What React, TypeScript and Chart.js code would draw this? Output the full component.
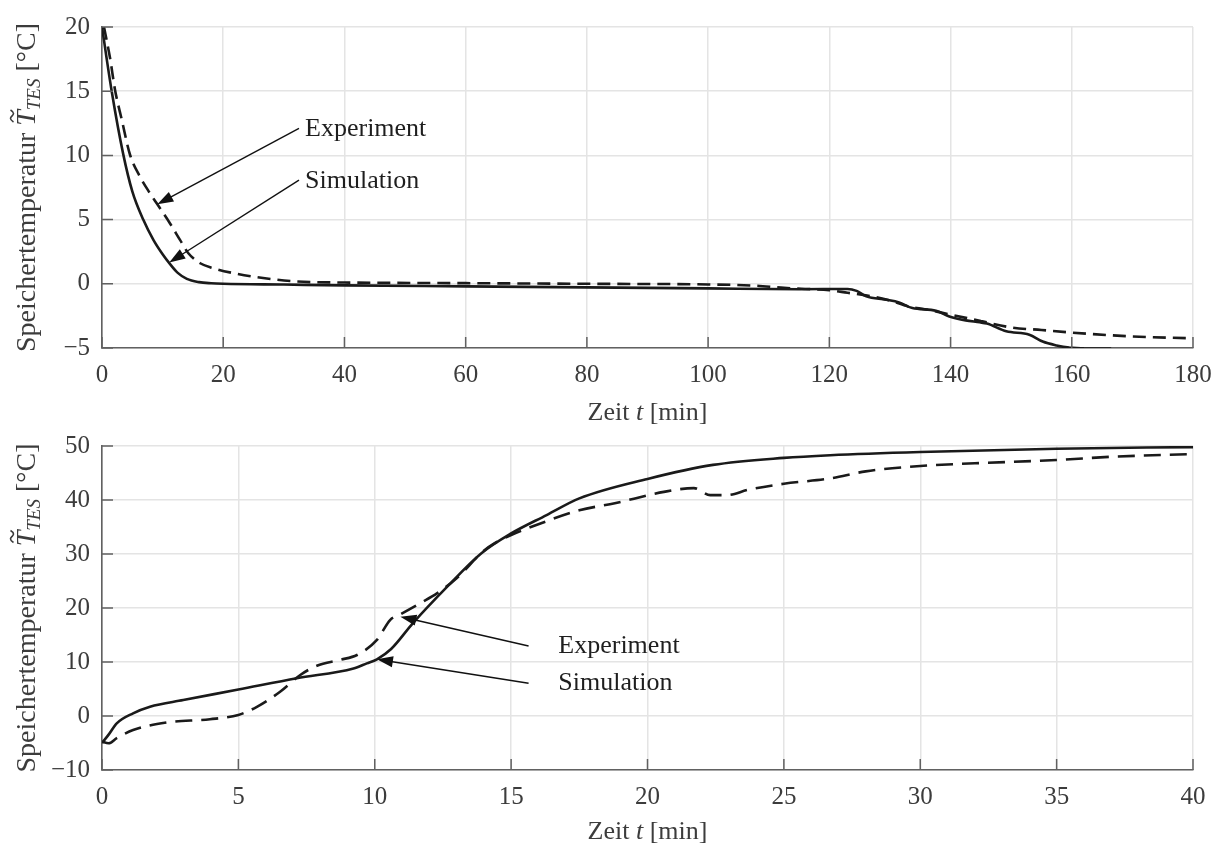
import React, { useEffect, useRef } from 'react';
import { Chart, registerables } from 'chart.js';

Chart.register(...registerables);

// ---------- Data ----------
// Upper panel: discharging, 0..180 min
const topSimTime = [0, 1.6, 3.5, 5, 6.8, 8.5, 10, 11.2, 12.5, 14, 16, 18, 20, 30, 40, 60, 80, 100, 115, 123, 124.5, 126.1, 129.4, 131.5, 133.7, 137.6, 139.8, 142.5, 144.8, 146, 149.2, 153, 155.2, 157.5, 159.6, 162, 166.5];
const topSimTemp = [20, 15, 10.1, 7.2, 5.0, 3.4, 2.3, 1.55, 0.85, 0.38, 0.13, 0.04, 0.0, -0.06, -0.12, -0.2, -0.28, -0.36, -0.42, -0.4, -0.55, -0.98, -1.24, -1.45, -1.89, -2.1, -2.54, -2.85, -3.0, -3.1, -3.7, -3.96, -4.5, -4.8, -4.97, -5.03, -5.05];

const topExpTime = [0.33, 1.32, 2.15, 3.25, 4.62, 6.27, 7.92, 9.13, 11.2, 12.87, 14.25, 16.2, 18.4, 21.7, 25.5, 32.1, 40, 60, 80, 100, 108, 112, 116, 120, 123, 126, 130, 133, 136, 140, 145, 150, 155, 160, 170, 180];
const topExpTemp = [20, 17.6, 15.1, 12.8, 10.05, 8.34, 7.05, 6.19, 4.72, 3.42, 2.38, 1.6, 1.21, 0.83, 0.52, 0.18, 0.1, 0.05, 0.0, -0.05, -0.15, -0.3, -0.4, -0.5, -0.7, -0.9, -1.3, -1.76, -2.0, -2.4, -2.9, -3.4, -3.6, -3.8, -4.1, -4.25];

// Lower panel: charging, 0..40 min
const botSimTime = [0, 0.25, 0.54, 1.14, 1.76, 2.98, 5.0, 7.14, 9.22, 9.71, 10.08, 10.6, 11.4, 12.65, 13.9, 15, 16.3, 17.5, 20, 22.4, 25, 26.7, 30, 35, 40];
const botSimTemp = [-5, -3.4, -1.36, 0.5, 1.73, 2.95, 4.9, 7.0, 8.8, 9.75, 10.5, 12.4, 17.2, 23.9, 30.1, 33.8, 37.2, 40.3, 43.9, 46.5, 47.8, 48.3, 48.9, 49.5, 49.8];

const botExpTime = [0, 0.24, 0.54, 1.14, 2.37, 3.96, 5.0, 5.68, 6.53, 7.27, 7.88, 8.73, 9.35, 10.08, 10.57, 10.9, 11.67, 12.28, 13, 14, 14.4, 15, 16.1, 17.5, 18.8, 20.6, 21.7, 22.3, 22.9, 23.7, 25, 26.7, 28, 30, 32, 35, 37, 40];
const botExpTemp = [-4.75, -5.06, -4.1, -2.6, -1.2, -0.6, 0.2, 1.7, 4.5, 7.6, 9.3, 10.4, 11.3, 14.1, 17.8, 18.7, 20.9, 22.7, 25.5, 30.6, 32, 33.5, 35.7, 38.1, 39.4, 41.5, 42.2, 40.9, 40.9, 41.9, 43, 44, 45.3, 46.3, 46.8, 47.4, 48.0, 48.5];

const seriesNames = ['Simulation', 'Experiment'];
const xTitleParts = ['Zeit ', 't', ' [min]'];
const yTitleParts = ['Speichertemperatur ', 'T', 'TES', ' [°C]'];

// ---------- Styling / layout ----------
const FONT = '"Liberation Serif", "Times New Roman", serif';
const LINE = '#1a1a1a';
const TEXT = '#3c3c3c';
const GRID = '#e4e4e4';
const AXIS = '#616161';

type Note = { text: string; tx: number; ty: number; fx: number; fy: number; hx: number; hy: number };

const topNotes: Note[] = [
  { text: seriesNames[1], tx: 33.5, ty: 11.5, fx: 32.5, fy: 12.1, hx: 9.13, hy: 6.19 },
  { text: seriesNames[0], tx: 33.5, ty: 7.46, fx: 32.5, fy: 8.08, hx: 11.1, hy: 1.66 },
];
const botNotes: Note[] = [
  { text: seriesNames[1], tx: 16.73, ty: 11.67, fx: 15.64, fy: 12.96, hx: 10.94, hy: 18.4 },
  { text: seriesNames[0], tx: 16.73, ty: 4.81, fx: 15.64, fy: 6.06, hx: 10.08, hy: 10.5 },
];

const fmt = (v: number | string) => {
  const n = Number(v);
  return n < 0 ? '\u2212' + Math.abs(n) : String(n);
};

const xy = (ts: number[], vs: number[]) => ts.map((t, i) => ({ x: t, y: vs[i] }));

function drawArrow(ctx: CanvasRenderingContext2D, x1: number, y1: number, x2: number, y2: number) {
  const ang = Math.atan2(y2 - y1, x2 - x1);
  const L = 16, W = 5.5;
  ctx.save();
  ctx.strokeStyle = '#111';
  ctx.fillStyle = '#111';
  ctx.lineWidth = 1.4;
  ctx.beginPath();
  ctx.moveTo(x1, y1);
  ctx.lineTo(x2 - Math.cos(ang) * (L - 2), y2 - Math.sin(ang) * (L - 2));
  ctx.stroke();
  ctx.beginPath();
  ctx.moveTo(x2, y2);
  ctx.lineTo(x2 - L * Math.cos(ang) + W * Math.sin(ang), y2 - L * Math.sin(ang) - W * Math.cos(ang));
  ctx.lineTo(x2 - L * Math.cos(ang) - W * Math.sin(ang), y2 - L * Math.sin(ang) + W * Math.cos(ang));
  ctx.closePath();
  ctx.fill();
  ctx.restore();
}

function makeDecor(notes: Note[], xTitleBaseline: number) {
  return {
    id: 'decor',
    afterDraw(chart: any) {
      const ctx: CanvasRenderingContext2D = chart.ctx;
      const xs = chart.scales.x;
      const ys = chart.scales.y;
      const area = chart.chartArea;

      // inward tick marks
      ctx.save();
      ctx.strokeStyle = AXIS;
      ctx.lineWidth = 1.5;
      ctx.beginPath();
      ys.ticks.forEach((t: any) => {
        const p = ys.getPixelForValue(t.value);
        ctx.moveTo(area.left, p);
        ctx.lineTo(area.left + 11, p);
      });
      xs.ticks.forEach((t: any) => {
        const p = xs.getPixelForValue(t.value);
        ctx.moveTo(p, area.bottom);
        ctx.lineTo(p, area.bottom - 11);
      });
      ctx.stroke();
      ctx.restore();

      // annotations
      ctx.save();
      notes.forEach((n) => {
        drawArrow(ctx, xs.getPixelForValue(n.fx), ys.getPixelForValue(n.fy), xs.getPixelForValue(n.hx), ys.getPixelForValue(n.hy));
        ctx.fillStyle = '#1e1e1e';
        ctx.font = `26px ${FONT}`;
        ctx.textAlign = 'left';
        ctx.textBaseline = 'alphabetic';
        ctx.fillText(n.text, xs.getPixelForValue(n.tx), ys.getPixelForValue(n.ty));
      });
      ctx.restore();

      // x-axis title
      ctx.save();
      ctx.fillStyle = TEXT;
      ctx.textBaseline = 'alphabetic';
      ctx.textAlign = 'left';
      const fN = `26px ${FONT}`;
      const fI = `italic 26px ${FONT}`;
      const segs = [
        { t: xTitleParts[0], f: fN },
        { t: xTitleParts[1], f: fI },
        { t: xTitleParts[2], f: fN },
      ];
      let total = 0;
      segs.forEach((s) => { ctx.font = s.f; total += ctx.measureText(s.t).width; });
      let x = (area.left + area.right) / 2 - total / 2;
      segs.forEach((s) => { ctx.font = s.f; ctx.fillText(s.t, x, xTitleBaseline); x += ctx.measureText(s.t).width; });
      ctx.restore();

      // y-axis title (rotated, with italic T, tilde and subscript)
      ctx.save();
      ctx.translate(35, (area.top + area.bottom) / 2);
      ctx.rotate(-Math.PI / 2);
      ctx.fillStyle = TEXT;
      ctx.textBaseline = 'alphabetic';
      ctx.textAlign = 'left';
      const yN = `28px ${FONT}`;
      const yI = `italic 28px ${FONT}`;
      const yS = `italic 19px ${FONT}`;
      const ysegs = [
        { t: yTitleParts[0], f: yN, dy: 0 },
        { t: yTitleParts[1], f: yI, dy: 0 },
        { t: yTitleParts[2], f: yS, dy: 5 },
        { t: yTitleParts[3], f: yN, dy: 0 },
      ];
      let tot = 0;
      ysegs.forEach((s) => { ctx.font = s.f; tot += ctx.measureText(s.t).width; });
      let px = -tot / 2;
      ysegs.forEach((s, i) => {
        ctx.font = s.f;
        const w = ctx.measureText(s.t).width;
        ctx.fillText(s.t, px, s.dy);
        if (i === 1) {
          // tilde over T
          const cx = px + w / 2 + 2;
          const cy = -23;
          ctx.save();
          ctx.strokeStyle = TEXT;
          ctx.lineWidth = 1.6;
          ctx.beginPath();
          ctx.moveTo(cx - 6, cy + 1.5);
          ctx.bezierCurveTo(cx - 3, cy - 3.5, cx - 1, cy - 1, cx, cy);
          ctx.bezierCurveTo(cx + 1, cy + 1, cx + 3, cy + 3.5, cx + 6, cy - 1.5);
          ctx.stroke();
          ctx.restore();
        }
        px += w;
      });
      ctx.restore();
    },
  };
}

function buildConfig(
  simT: number[], simV: number[], expT: number[], expV: number[],
  xmin: number, xmax: number, xstep: number,
  ymin: number, ymax: number, ystep: number,
  padTop: number, padRight: number, xAxisHeight: number, dash: number[],
  notes: Note[], xTitleBaseline: number,
): any {
  return {
    type: 'line',
    data: {
      datasets: [
        {
          label: seriesNames[0],
          data: xy(simT, simV),
          borderColor: LINE,
          borderWidth: 2.6,
          pointRadius: 0,
          cubicInterpolationMode: 'monotone',
          fill: false,
        },
        {
          label: seriesNames[1],
          data: xy(expT, expV),
          borderColor: LINE,
          borderWidth: 2.6,
          borderDash: dash,
          pointRadius: 0,
          cubicInterpolationMode: 'monotone',
          fill: false,
        },
      ],
    },
    options: {
      responsive: false,
      animation: false,
      devicePixelRatio: 1,
      layout: { padding: { top: padTop, right: padRight, left: 0, bottom: 0 } },
      plugins: { legend: { display: false }, tooltip: { enabled: false } },
      scales: {
        x: {
          type: 'linear',
          min: xmin,
          max: xmax,
          ticks: {
            stepSize: xstep,
            color: TEXT,
            font: { family: FONT, size: 25 },
            padding: 12,
            maxRotation: 0,
            autoSkip: false,
            callback: fmt,
          },
          grid: { color: GRID, lineWidth: 1.5, drawTicks: false },
          border: { color: AXIS, width: 1.6 },
          afterFit: (s: any) => { s.height = xAxisHeight; },
        },
        y: {
          type: 'linear',
          min: ymin,
          max: ymax,
          ticks: {
            stepSize: ystep,
            color: TEXT,
            font: { family: FONT, size: 25 },
            padding: 12,
            autoSkip: false,
            callback: fmt,
          },
          grid: { color: GRID, lineWidth: 1.5, drawTicks: false },
          border: { color: AXIS, width: 1.6 },
          afterFit: (s: any) => { s.width = 102; },
        },
      },
    },
    plugins: [makeDecor(notes, xTitleBaseline)],
  };
}

const TOP_H = 432;
const BOT_TOP = 419;
const BOT_H = 849 - BOT_TOP;
const CANVAS_W = 1232;

export default function App() {
  const topRef = useRef<HTMLCanvasElement>(null);
  const botRef = useRef<HTMLCanvasElement>(null);

  useEffect(() => {
    // plot area: x 102..1193, top panel y 27..348, bottom panel y 446..770
    const c1 = new Chart(
      topRef.current as HTMLCanvasElement,
      buildConfig(topSimTime, topSimTemp, topExpTime, topExpTemp, 0, 180, 20, -5, 20, 5, 27, CANVAS_W - 1193, TOP_H - 348, [13, 7], topNotes, 420),
    );
    const c2 = new Chart(
      botRef.current as HTMLCanvasElement,
      buildConfig(botSimTime, botSimTemp, botExpTime, botExpTemp, 0, 40, 5, -10, 50, 10, 446 - BOT_TOP, CANVAS_W - 1193, BOT_H - (770 - BOT_TOP), [17, 9], botNotes, 839 - BOT_TOP),
    );
    return () => {
      c1.destroy();
      c2.destroy();
    };
  }, []);

  return (
    <div style={{ position: 'absolute', left: 0, top: 0, width: 1219, height: 849, overflow: 'hidden', background: '#fff' }}>
      <canvas ref={topRef} width={CANVAS_W} height={TOP_H} style={{ position: 'absolute', left: 0, top: 0, width: CANVAS_W, height: TOP_H }} />
      <canvas ref={botRef} width={CANVAS_W} height={BOT_H} style={{ position: 'absolute', left: 0, top: BOT_TOP, width: CANVAS_W, height: BOT_H }} />
    </div>
  );
}
